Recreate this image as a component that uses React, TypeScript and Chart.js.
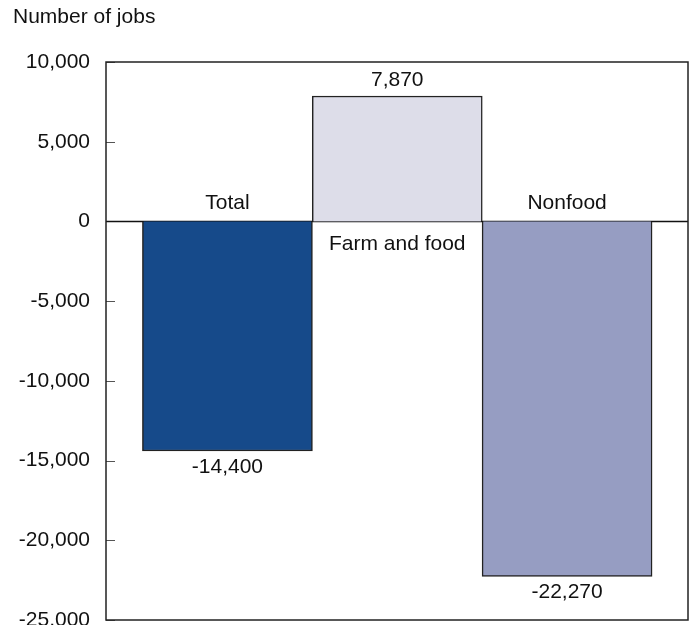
import React, { useEffect, useRef } from "react";
import { Chart, registerables } from "chart.js";

Chart.register(...registerables);

const categories = ["Total", "Farm and food", "Nonfood"];
const values = [-14400, 7870, -22270];
const valueLabels = ["-14,400", "7,870", "-22,270"];
const barColors = ["#164a8a", "#dddde9", "#969dc2"];
const yTicks = [10000, 5000, 0, -5000, -10000, -15000, -20000, -25000];
const yTitle = "Number of jobs";

const FONT = '"Liberation Sans", Arial, sans-serif';
const FS = 21;

export default function App() {
  const ref = useRef<HTMLCanvasElement | null>(null);

  useEffect(() => {
    if (!ref.current) return;
    const overlay = {
      id: "overlay",
      beforeDatasetsDraw(chart: any) {
        const { ctx, chartArea } = chart;
        const y = chart.scales.y;
        ctx.save();
        ctx.strokeStyle = "#555";
        ctx.lineWidth = 1;
        yTicks.forEach((t) => {
          if (t === 0) return;
          const py = Math.round(y.getPixelForValue(t)) + 0.5;
          ctx.beginPath();
          ctx.moveTo(chartArea.left, py);
          ctx.lineTo(chartArea.left + 9, py);
          ctx.stroke();
        });
        const zy = y.getPixelForValue(0);
        ctx.strokeStyle = "#111";
        ctx.lineWidth = 1.5;
        ctx.beginPath();
        ctx.moveTo(chartArea.left, zy);
        ctx.lineTo(chartArea.right, zy);
        ctx.stroke();
        ctx.restore();
      },
      afterDatasetsDraw(chart: any) {
        const { ctx, chartArea } = chart;
        const x = chart.scales.x;
        const y = chart.scales.y;
        ctx.save();
        ctx.strokeStyle = "#222";
        ctx.lineWidth = 1.5;
        ctx.strokeRect(
          chartArea.left,
          chartArea.top,
          chartArea.right - chartArea.left,
          chartArea.bottom - chartArea.top
        );
        ctx.fillStyle = "#111";
        ctx.font = `${FS}px ${FONT}`;
        ctx.textAlign = "center";
        ctx.textBaseline = "middle";
        const zy = y.getPixelForValue(0);
        values.forEach((v, i) => {
          const px = x.getPixelForValue(i);
          const vy = y.getPixelForValue(v);
          if (v >= 0) {
            ctx.fillText(valueLabels[i], px, vy - 16);
            ctx.fillText(categories[i], px, zy + 23);
          } else {
            ctx.fillText(valueLabels[i], px, vy + 16);
            ctx.fillText(categories[i], px, zy - 18);
          }
        });
        ctx.textAlign = "left";
        ctx.fillText(yTitle, 13, 17);
        ctx.restore();
      },
    };

    const chart = new Chart(ref.current, {
      type: "bar",
      data: {
        datasets: [
          {
            data: values.map((v, i) => ({ x: i, y: v })),
            backgroundColor: barColors,
            borderColor: "#222",
            borderWidth: 1.5,
            barThickness: 170,
          } as any,
        ],
      },
      options: {
        responsive: false,
        animation: false,
        layout: { padding: { left: 0, top: 62, right: 6, bottom: 5 } },
        plugins: {
          legend: { display: false },
          tooltip: { enabled: false },
        },
        scales: {
          x: {
            type: "linear",
            display: false,
            offset: false,
            min: -0.715,
            max: 2.712,
          },
          y: {
            min: -25000,
            max: 10000,
            afterFit: (s: any) => {
              s.width = 106;
              s.paddingTop = 0;
              s.paddingBottom = 0;
            },
            border: { display: false },
            grid: { display: false, drawTicks: false },
            ticks: {
              stepSize: 5000,
              padding: 16,
              color: "#111",
              font: { family: FONT, size: FS },
              callback: (v: any) => Number(v).toLocaleString("en-US"),
            },
          },
        },
      },
      plugins: [overlay],
    });
    return () => chart.destroy();
  }, []);

  return (
    <div style={{ position: "fixed", left: 0, top: 0, width: 694, height: 625, background: "#fff" }}>
      <canvas ref={ref} width={694} height={625} />
    </div>
  );
}
